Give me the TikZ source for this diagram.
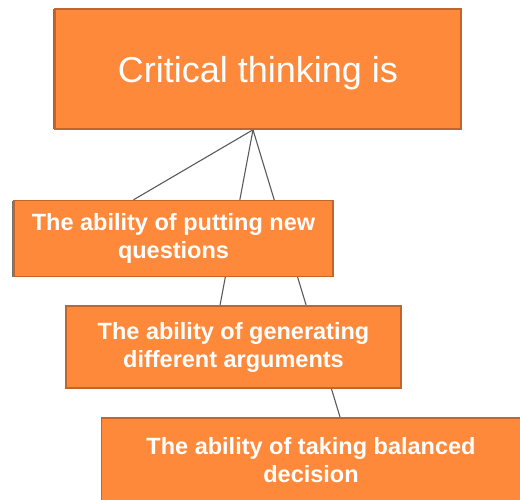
\documentclass[tikz,border=0pt]{standalone}
\usepackage{fontspec}
\setmainfont{Liberation Sans}
\usepackage{xcolor}
\usetikzlibrary{positioning, backgrounds, shadows}

\definecolor{boxorange}{RGB}{255,137,58}
\definecolor{boxedge}{RGB}{192,101,43}
\definecolor{linkgray}{RGB}{90,90,90}

\begin{document}
\begin{tikzpicture}[
            x=1pt, y=1pt,
            box/.style={rectangle, draw=boxedge, line width=1.6pt, fill=boxorange,
                    text=white, align=center, inner sep=2pt},
            headbox/.style={box, minimum width=406pt, minimum height=120pt, text depth=0pt,
                    font=\fontsize{36}{43}\selectfont},
            abox/.style={box, font=\fontsize{23.5}{28}\selectfont\bfseries},
            edgeshadow/.style={drop shadow={shadow xshift=-2.5pt, shadow yshift=0pt,
                    fill=black!55, opacity=1}},
            link/.style={linkgray, line width=1.1pt},
            ]

            \useasboundingbox (0,0) rectangle (520,-499);

            \node[headbox, edgeshadow] (crit) at (258,-69) {Critical thinking is};

            \node[abox, edgeshadow, minimum width=319pt, minimum height=76pt,
                    below=70pt of crit, xshift=-84.5pt] (ask) {The ability of putting new\\questions};
            \node[abox, minimum width=335pt, minimum height=82pt,
                    below=28pt of ask, xshift=60pt] (argue) {The ability of generating\\different arguments};
            \node[abox, minimum width=419pt, minimum height=85pt,
                    below=28pt of argue, xshift=77.5pt] (decide) {The ability of taking balanced\\decision};

            \begin{scope}[on background layer]
                \coordinate (apex) at ([xshift=-5pt]crit.south);
                \draw[link] (apex) -- ([xshift=-40pt]ask.north);
                \draw[link] (apex) -- ([xshift=-13.5pt]argue.north);
                \draw[link] (apex) -- ([xshift=29pt]decide.north);
            \end{scope}

        \end{tikzpicture}
\end{document}
